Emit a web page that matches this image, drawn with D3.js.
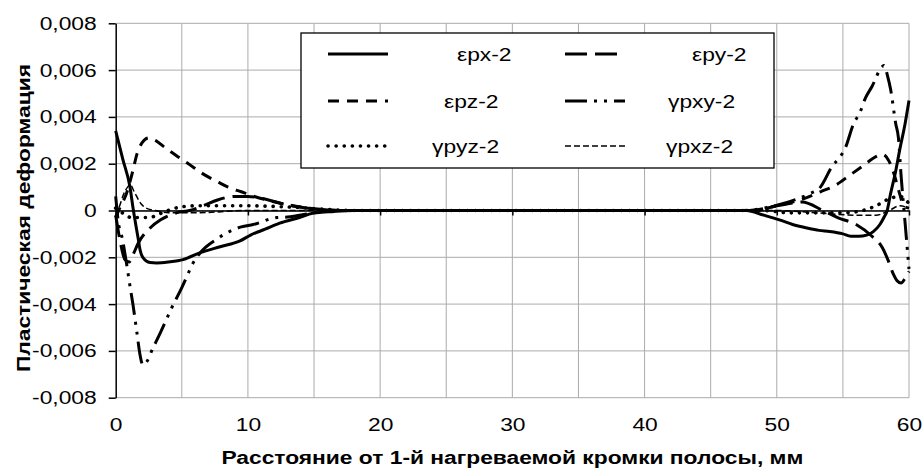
<!DOCTYPE html>
<html>
<head>
<meta charset="utf-8">
<script src="https://cdn.jsdelivr.net/npm/d3@7"></script>
<style>
  html, body { margin: 0; padding: 0; background: #fff; }
  svg { display: block; font-family: "Liberation Sans", Arial, sans-serif; }
</style>
</head>
<body>
<svg id="chart" width="922" height="468"></svg>
<script>
// ---------------- data ----------------
const xTicks = [0, 10, 20, 30, 40, 50, 60];
const yTicks = [-0.008, -0.006, -0.004, -0.002, 0, 0.002, 0.004, 0.006, 0.008];
const xGrid = [5, 10, 15, 20, 25, 30, 35, 40, 45, 50, 55, 60];

const seriesNames = ["εpx-2", "εpy-2", "εpz-2", "γpxy-2", "γpyz-2", "γpxz-2"];

// εpx-2 (solid)
const epxX = [0, 0.55, 1.08, 1.3, 1.7, 1.85, 2.05, 2.6, 3.1, 4.0, 5.1, 6.4, 7.9, 9.4, 10.2, 11.3, 12.4, 13.9, 14.9, 16.5, 18, 20,
              46, 47.7, 49, 50.2, 51.2, 52.3, 53.2, 54, 55, 55.6, 56.2, 56.8, 57.3, 57.8, 58.1, 58.35, 58.6, 59.0, 59.3, 59.7, 60];
const epxY = [0.0034, 0.00216, 0.0010, 0.00015, -0.0012, -0.0017, -0.002, -0.00222, -0.00224, -0.0022, -0.0021, -0.0018, -0.00155, -0.0013, -0.00105, -0.0008, -0.00054, -0.0003, -0.00012, -0.00004, 0, 0,
              0, 0, -0.0002, -0.0004, -0.0006, -0.00075, -0.00085, -0.0009, -0.001, -0.0011, -0.0011, -0.00105, -0.0009, -0.0006, -0.0003, 0, 0.0007, 0.0017, 0.0026, 0.0037, 0.0047];

// εpy-2 (long dash)
const epyX = [0, 0.3, 0.7, 1.0, 1.3, 1.7, 2.6, 3.4, 4.6, 5.6, 6.6, 7.7, 9, 10, 11.2, 12.5, 13.9, 15.5, 17, 20,
              46, 48, 50, 51.9, 53.5, 54.6, 56, 57.2, 58, 58.4, 58.8, 59.1, 59.4, 59.7, 60];
const epyY = [-0.0002, -0.0012, -0.0021, -0.0022, -0.0019, -0.0014, -0.00075, -0.0004, -0.0001, 0, 0.0002, 0.00045, 0.0006, 0.0006, 0.0005, 0.0003, 0.00015, 0.00005, 0, 0,
              0, 0, 0.0002, 0.00036, 0, -0.0003, -0.0006, -0.0011, -0.0016, -0.0021, -0.0027, -0.0030, -0.0031, -0.0029, -0.0026];

// εpz-2 (dash)
const epzX = [0, 0.3, 0.8, 1.3, 1.6, 2.0, 2.5, 3.0, 3.7, 4.7, 5.5, 6.5, 7.8, 8.5, 9.5, 10.5, 11.8, 13, 14, 15.5, 17, 20,
              46, 48, 50, 52, 53.3, 54.5, 55.5, 56.5, 57.5, 58, 58.5, 58.9, 59.3, 59.6, 60];
const epzY = [-0.0003, 0.0001, 0.0007, 0.0017, 0.0024, 0.0029, 0.0031, 0.003, 0.0027, 0.0023, 0.002, 0.0016, 0.0012, 0.001, 0.0008, 0.0006, 0.0004, 0.00025, 0.00015, 0.00005, 0, 0,
              0, 0, 0.0002, 0.0005, 0.0008, 0.0011, 0.0015, 0.0019, 0.0023, 0.0024, 0.0021, 0.0015, 0.0007, 0.0002, 0.0001];

// γpxy-2 (long dash – dot – dot)
const gpxyX = [0, 0.2, 0.5, 0.8, 1.1, 1.3, 1.6, 1.85, 2.05, 2.3, 2.8, 3.4, 3.8, 4.2, 5.0, 5.4, 5.8, 6.4, 7.7, 8.6, 9.5, 10.4, 12.2, 13, 15, 17, 20,
               46, 47.5, 49, 50.5, 52.4, 53.3, 54.2, 54.8, 55.2, 55.8, 56.3, 56.7, 57.2, 57.9, 58.1, 58.4, 58.6, 59.0, 59.2, 59.4, 59.7, 60];
const gpxyY = [0.0006, -0.0005, -0.0012, -0.0022, -0.0033, -0.0040, -0.0052, -0.0062, -0.0066, -0.0065, -0.0059, -0.0052, -0.0047, -0.0042, -0.0033, -0.0028, -0.0023, -0.0018, -0.0012, -0.0009, -0.0007, -0.0006, -0.0003, -0.00028, -0.0001, 0, 0,
               0, 0, 0.0001, 0.0003, 0.0007, 0.001, 0.0019, 0.0023, 0.0027, 0.0037, 0.0042, 0.0048, 0.0053, 0.0061, 0.0062, 0.0057, 0.0052, 0.0037, 0.0031, 0.0015, -0.0005, -0.0025];

// γpyz-2 (round dots)
const gpyzX = [0, 0.5, 1.2, 2.5, 3.5, 4.5, 6, 10, 13, 16, 18, 20,
               46, 49, 51, 55, 56.5, 57.5, 58.5, 59.3, 60];
const gpyzY = [0.0001, -0.0001, -0.0003, -0.0003, -0.0001, 0.0001, 0.0002, 0.0002, 0.00015, 0.00005, 0, 0,
               0, 0, -0.0001, -0.0001, 0, 0.0002, 0.0005, 0.0006, 0.0003];

// γpxz-2 (thin short dash)
const gpxzX = [0, 0.3, 0.6, 0.9, 1.1, 1.4, 1.9, 2.3, 3, 4, 6, 10, 20,
               46, 50, 53, 56, 57.5, 58.5, 59.3, 60];
const gpxzY = [-0.0002, 0.0002, 0.0007, 0.001, 0.0011, 0.0008, 0.0003, 0.0001, 0, -0.0001, -0.0001, 0, 0,
               0, 0, -0.0001, -0.0002, -0.0002, 0, 0.0002, 0.0001];

// ---------------- styles ----------------
const styles = [
  { width: 3,   dash: null,               cap: "butt"  },
  { width: 3,   dash: "22,8",             cap: "butt"  },
  { width: 3,   dash: "11,8",             cap: "butt"  },
  { width: 3,   dash: "22,7,3,7,3,7",     cap: "butt"  },
  { width: 3.6, dash: "0.1,8",            cap: "round" },
  { width: 1.5, dash: "6,3",              cap: "butt"  }
];

const seriesX = [epxX, epyX, epzX, gpxyX, gpyzX, gpxzX];
const seriesY = [epxY, epyY, epzY, gpxyY, gpyzY, gpxzY];

// ---------------- layout ----------------
const FONT = '"Liberation Sans", Arial, sans-serif';
const SX = 1.2;           // text in the reference is drawn wider than plain Arial
const plot = { left: 115.7, right: 909, top: 23.3, bottom: 397.7 };
const svg = d3.select("#chart");

const x = d3.scaleLinear().domain([0, 60]).range([plot.left, plot.right]);
const y = d3.scaleLinear().domain([-0.008, 0.008]).range([plot.bottom, plot.top]);

const gridColor = "#ababab";
svg.append("g").selectAll("line").data(yTicks).join("line")
  .attr("x1", plot.left).attr("x2", plot.right)
  .attr("y1", d => y(d)).attr("y2", d => y(d))
  .attr("stroke", gridColor).attr("stroke-width", 1);
svg.append("g").selectAll("line").data(xGrid).join("line")
  .attr("x1", d => x(d)).attr("x2", d => x(d))
  .attr("y1", plot.top).attr("y2", plot.bottom)
  .attr("stroke", gridColor).attr("stroke-width", 1);

const fmt = v => v === 0 ? "0" : d3.format(".3f")(v).replace(".", ",").replace("−", "-");

// y axis
const yAxis = d3.axisLeft(y).tickValues(yTicks).tickSize(7).tickSizeOuter(0).tickFormat(fmt);
const gy = svg.append("g").attr("transform", `translate(${plot.left},0)`).call(yAxis);
gy.select(".domain").attr("stroke", "#000").attr("stroke-width", 1.5);
gy.selectAll(".tick line").attr("stroke", "#000").attr("stroke-width", 1.5);
gy.selectAll(".tick text").attr("font-size", 19).attr("fill", "#000").attr("font-family", FONT)
  .attr("x", 0).attr("transform", `translate(-19,0) scale(${SX},1)`);

// x axis line at zero with ticks
const xAxis0 = d3.axisBottom(x).tickValues(xTicks).tickSize(5).tickSizeOuter(0).tickFormat("");
const gx0 = svg.append("g").attr("transform", `translate(0,${y(0)})`).call(xAxis0);
gx0.select(".domain").attr("stroke", "#000").attr("stroke-width", 1.5);
gx0.selectAll(".tick line").attr("stroke", "#000").attr("stroke-width", 1.5);

// x tick labels at bottom
const xAxisB = d3.axisBottom(x).tickValues(xTicks).tickSize(0).tickFormat(d => String(d));
const gxb = svg.append("g").attr("transform", `translate(0,${plot.bottom})`).call(xAxisB);
gxb.select(".domain").remove();
gxb.selectAll(".tick text").attr("font-size", 19).attr("fill", "#000").attr("font-family", FONT)
  .attr("y", 0).attr("transform", `translate(0,20) scale(${SX},1)`);

// axis titles
svg.append("text")
  .attr("transform", `translate(${(plot.left + plot.right) / 2},464) scale(${SX},1)`)
  .attr("text-anchor", "middle").attr("font-size", 19).attr("font-weight", "bold")
  .text("Расстояние от 1-й нагреваемой кромки полосы, мм");
svg.append("text")
  .attr("transform", `translate(30,218) rotate(-90) scale(${SX},1)`)
  .attr("text-anchor", "middle").attr("font-size", 19).attr("font-weight", "bold")
  .text("Пластическая деформация");

// series lines
const line = d3.line().x(d => x(d[0])).y(d => y(d[1])).curve(d3.curveMonotoneX);
[5, 4, 3, 2, 1, 0].forEach(i => {
  const pts = seriesX[i].map((xv, k) => [xv, seriesY[i][k]]);
  svg.append("path")
    .datum(pts)
    .attr("d", line)
    .attr("fill", "none")
    .attr("stroke", "#000")
    .attr("stroke-width", styles[i].width)
    .attr("stroke-linecap", styles[i].cap)
    .attr("stroke-dasharray", styles[i].dash);
});

// legend
const legend = { x: 301, y: 33, w: 473, h: 135 };
const legendRows = [54, 101, 146];
const legendSampleX = [[328, 388], [565, 625]];
const legendTextX = [457, 692, 444, 668, 432, 666];
const lg = svg.append("g");
lg.append("rect").attr("x", legend.x).attr("y", legend.y).attr("width", legend.w).attr("height", legend.h)
  .attr("fill", "#fff").attr("stroke", "#000").attr("stroke-width", 1.3);
seriesNames.forEach((name, i) => {
  const row = Math.floor(i / 2), col = i % 2;
  const ly = legendRows[row];
  lg.append("line")
    .attr("x1", legendSampleX[col][0]).attr("x2", legendSampleX[col][1])
    .attr("y1", ly).attr("y2", ly)
    .attr("stroke", "#000").attr("stroke-width", styles[i].width)
    .attr("stroke-linecap", styles[i].cap)
    .attr("stroke-dasharray", styles[i].dash);
  lg.append("text").attr("transform", `translate(${legendTextX[i]},${ly + 7}) scale(${SX},1)`)
    .attr("font-size", 19).text(name);
});
</script>
</body>
</html>
